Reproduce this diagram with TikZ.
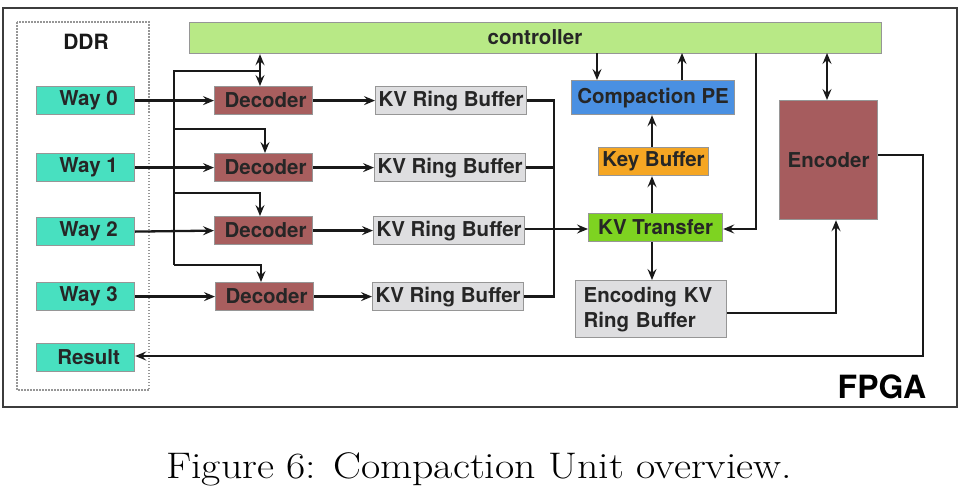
\documentclass[tikz,border=0pt]{standalone}
\usepackage{fontspec}
\setmainfont{Latin Modern Roman}
\newfontfamily\helv{TeX Gyre Heros}
\usetikzlibrary{arrows.meta}
\definecolor{ctrlgreen}{RGB}{184,233,134}
\definecolor{wayteal}{RGB}{72,224,192}
\definecolor{decred}{RGB}{168,94,94}
\definecolor{encred}{RGB}{166,92,94}
\definecolor{ringgray}{RGB}{222,222,224}
\definecolor{peblue}{RGB}{74,144,226}
\definecolor{keyorange}{RGB}{245,166,35}
\definecolor{xfergreen}{RGB}{126,211,33}
\definecolor{bordergray}{RGB}{150,150,150}
\definecolor{framegray}{RGB}{60,60,60}
\tikzset{
  blk/.style={draw=bordergray, line width=1.2pt, inner sep=0pt, anchor=north west,
              font=\helv\bfseries\fontsize{20.5}{23}\selectfont, text=black!85},
  conn/.style={line width=2.3pt, draw=black!90, -{Stealth[length=11pt,width=9pt,inset=4pt]}},
  conn2/.style={line width=2.3pt, draw=black!90, {Stealth[length=11pt,width=9pt,inset=4pt]}-{Stealth[length=11pt,width=9pt,inset=4pt]}},
  wire/.style={line width=2.3pt, draw=black!90},
}
\begin{document}
\begin{tikzpicture}[x=1pt,y=-1pt]
\useasboundingbox[fill=white] (0,0) rectangle (969,490);
% FPGA frame
\draw[framegray, line width=1.8pt] (3,8) rectangle (957,407);
\node[font=\helv\bfseries\fontsize{32}{36}\selectfont] (fpga) at (882,387) {FPGA};
% DDR dotted box
\draw[bordergray, line width=2.2pt, dash pattern=on 1.5pt off 1.5pt] (17,22) rectangle (149,390);
\node[font=\helv\bfseries\fontsize{21}{24}\selectfont, text=black!90] (ddr) at (86,42) {DDR};
% Way boxes
\node[blk, fill=wayteal, minimum width=98, minimum height=28] (w0) at (36,86) {\hspace*{6pt}Way 0};
\node[blk, fill=wayteal, minimum width=98, minimum height=28] (w1) at (36,153) {\hspace*{6pt}Way 1};
\node[blk, fill=wayteal, minimum width=98, minimum height=28] (w2) at (36,217) {\hspace*{6pt}Way 2};
\node[blk, fill=wayteal, minimum width=98, minimum height=28] (w3) at (36,282) {\hspace*{6pt}Way 3};
\node[blk, fill=wayteal, minimum width=98, minimum height=28] (res) at (36,343) {\hspace*{6pt}Result};
% controller
\node[blk, fill=ctrlgreen, minimum width=692, minimum height=31] (ctrl) at (189,22) {};
\node[font=\helv\bfseries\fontsize{20.5}{23}\selectfont, text=black!85] (ctrltxt) at (535,37) {controller};
% Decoders
\node[blk, fill=decred, minimum width=98, minimum height=28] (d0) at (214,86) {\hspace*{4pt}Decoder};
\node[blk, fill=decred, minimum width=98, minimum height=28] (d1) at (214,153) {\hspace*{4pt}Decoder};
\node[blk, fill=decred, minimum width=98, minimum height=28] (d2) at (214,216) {\hspace*{4pt}Decoder};
\node[blk, fill=decred, minimum width=98, minimum height=28] (d3) at (215,282) {\hspace*{4pt}Decoder};
% KV ring buffers
\node[blk, fill=ringgray, minimum width=151, minimum height=28] (k0) at (375,86) {KV Ring Buffer};
\node[blk, fill=ringgray, minimum width=151, minimum height=28] (k1) at (374,153) {KV Ring Buffer};
\node[blk, fill=ringgray, minimum width=151, minimum height=28] (k2) at (373,216) {KV Ring Buffer};
\node[blk, fill=ringgray, minimum width=151, minimum height=28] (k3) at (372,282) {KV Ring Buffer};
% right-hand blocks
\node[blk, fill=peblue, minimum width=163, minimum height=34] (pe) at (571,80) {Compaction PE};
\node[blk, fill=keyorange, minimum width=110, minimum height=28] (kb) at (598,147) {Key Buffer};
\node[blk, fill=xfergreen, minimum width=134, minimum height=28] (kt) at (588,213) {KV Transfer};
\node[blk, fill=ringgray, text width=135pt, inner xsep=8pt, minimum height=57, align=left, font=\helv\bfseries\fontsize{20.5}{25}\selectfont] (ekv) at (575,280) {Encoding KV\\Ring Buffer};
\node[blk, fill=encred, minimum width=98, minimum height=119] (enc) at (779,100) {Encoder};
% coordinates
\coordinate (busTop) at (174,71);
\coordinate (merge) at (554,229);
% controller <-> decoder 0
\draw[conn2] (ctrl.south west -| 260,0) -- (d0.north -| 260,0);
% bus to decoders
\draw[wire] (260,71) -- (busTop) -- (174,265);
\draw[conn] (174,129) -- (265,129) -- (265,153);
\draw[conn] (174,193) -- (260,193) -- (260,216);
\draw[conn] (174,265) -- (261,265) -- (261,282);
% way -> decoder
\draw[conn] (w0.east) -- (d0.west);
\draw[conn] (w1.east) -- (d1.west);
\draw[conn] (w2.east) -- (d2.west);
\draw[conn] (w3.east) -- (d3.west);
% decoder -> kv
\draw[conn] (d0.east) -- (k0.west);
\draw[conn] (d1.east) -- (k1.west);
\draw[conn] (d2.east) -- (k2.west);
\draw[conn] (d3.east) -- (k3.west);
% kv -> merge
\draw[wire] (k0.east) -- (k0.east -| merge) -- (k3.east -| merge) -- (k3.east);
\draw[wire] (k1.east) -- (k1.east -| merge);
\draw[conn] (k2.east |- merge) -- (kt.west |- merge);
% controller <-> PE
\draw[conn] (597,53) -- (597,80);
\draw[conn] (682,80) -- (682,53);
% KV transfer -> key buffer -> PE
\draw[conn] (kb.north -| 652,0) -- (pe.south -| 652,0);
\draw[conn] (kt.north -| 652,0) -- (kb.south -| 652,0);
\draw[conn] (kt.south -| 652,0) -- (ekv.north -| 652,0);
% controller -> KV transfer
\draw[conn] (756,53) -- (756,229) -- (kt.east |- 0,229);
% controller <-> encoder
\draw[conn2] (827,53) -- (enc.north -| 827,0);
% encoding kv -> encoder
\draw[conn] (ekv.east |- 0,313) -- (836,313) -- (enc.south -| 836,0);
% encoder -> result
\draw[conn] (enc.east |- 0,155) -- (923,155) -- (923,356) -- (res.east |- 0,356);
% caption
\node[anchor=base west, inner sep=0pt, font=\fontsize{37}{44}\selectfont] (cap) at (166,478) {\scalebox{1.13}[1]{Figure 6: Compaction Unit overview.}};
\end{tikzpicture}
\end{document}
